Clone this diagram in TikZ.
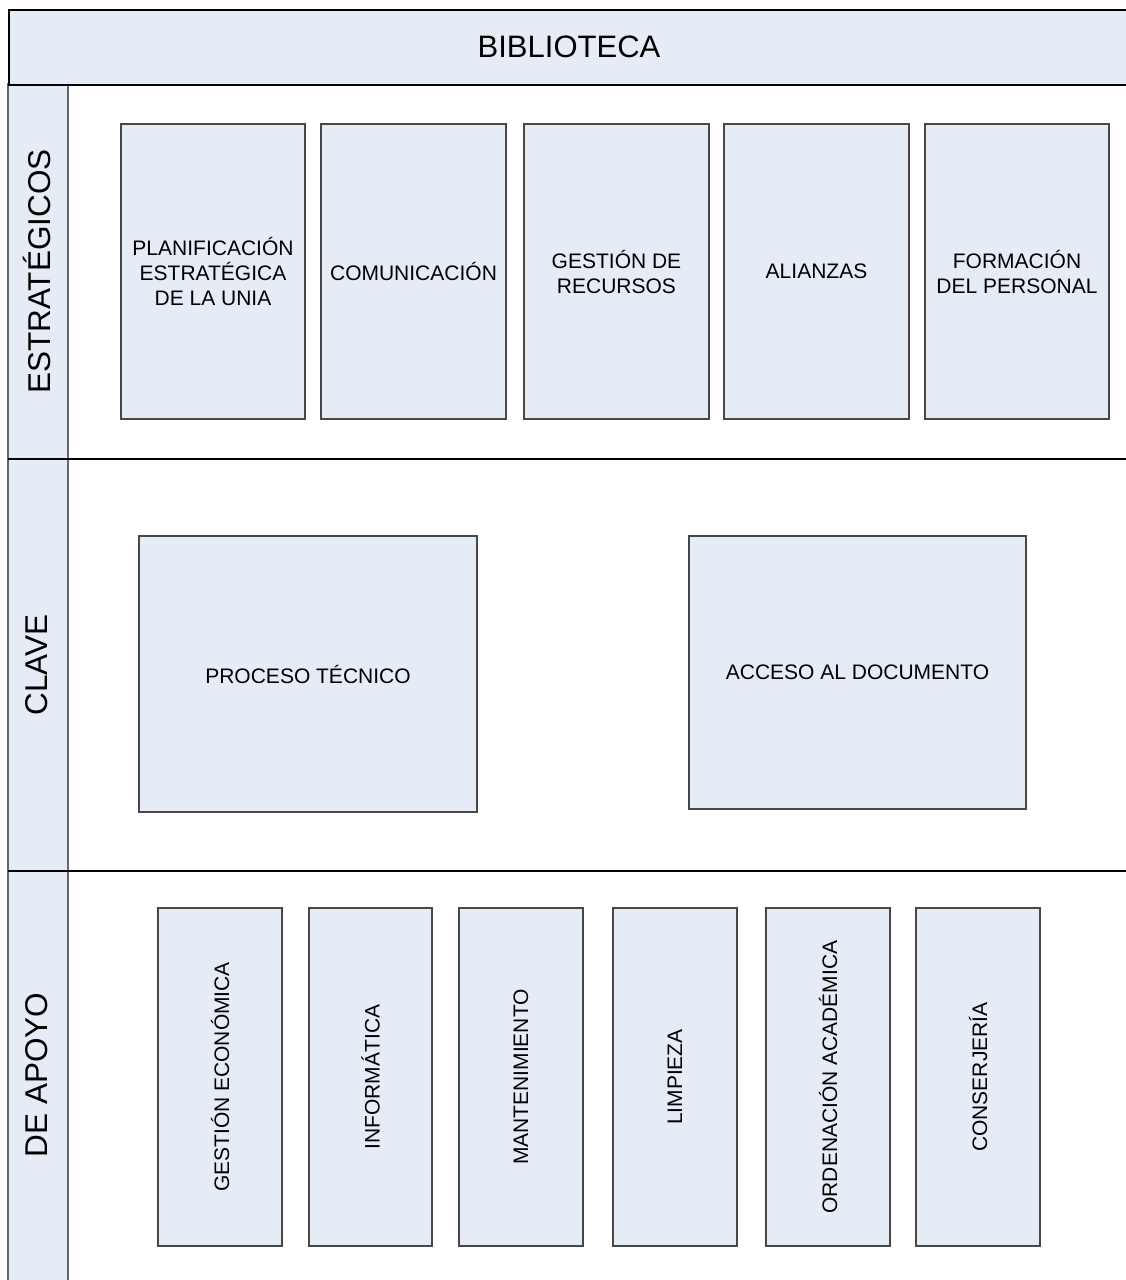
\documentclass[tikz,border=0pt]{standalone}
\usepackage{fontspec}
\setmainfont{Liberation Sans}
\definecolor{fillb}{HTML}{E5ECF6}
\begin{document}
\begin{tikzpicture}[x=1pt,y=-1pt,
  box/.style={draw=black!72, line width=1.2pt, fill=fillb, inner sep=0pt, align=center,
    font=\fontsize{21}{25}\selectfont},
  lanelabel/.style={rotate=90, inner sep=0pt, font=\fontsize{31.5}{36}\selectfont},
  sep/.style={draw=black, line width=1.3pt}]
\useasboundingbox (0,0) rectangle (1126,1280);
\fill[white] (0,0) rectangle (1126,1280);
% lane label column
\path[draw=black!60, line width=1.3pt, fill=fillb] (8,84) rectangle (68,1300);
% header
\node[draw=black, line width=1.6pt, fill=fillb, minimum width=1130pt, minimum height=75pt, anchor=north west,
  inner sep=0pt] (head) at (8,9) {};
\node[font=\fontsize{31}{36}\selectfont, inner sep=0pt] (headtxt) at (569,47) {BIBLIOTECA};
% lane separators
\coordinate (l1a) at (8,459); \coordinate (l1b) at (1130,459);
\coordinate (l2a) at (8,871); \coordinate (l2b) at (1130,871);
\draw[sep] (l1a) -- (l1b);
\draw[sep] (l2a) -- (l2b);
% lane labels
\node[lanelabel] (lE) at (37,271.5) {ESTRATÉGICOS};
\node[lanelabel] (lC) at (37,665) {CLAVE};
\node[lanelabel] (lA) at (37,1075) {DE APOYO};
% strategic
\node[box, minimum width=184pt, minimum height=295pt] (s1) at (213,271.5) {PLANIFICACIÓN\\ESTRATÉGICA\\DE LA UNIA};
\node[box, minimum width=185pt, minimum height=295pt] (s2) at (413.5,271.5) {COMUNICACIÓN};
\node[box, minimum width=185pt, minimum height=295pt] (s3) at (616.5,271.5) {GESTIÓN DE\\RECURSOS};
\node[box, minimum width=185pt, minimum height=295pt] (s4) at (816.5,271.5) {ALIANZAS};
\node[box, minimum width=184pt, minimum height=295pt] (s5) at (1017,271.5) {FORMACIÓN\\DEL PERSONAL};
% clave
\node[box, minimum width=338pt, minimum height=276pt] (c1) at (308,674) {PROCESO TÉCNICO};
\node[box, minimum width=337pt, minimum height=273pt] (c2) at (857.5,672.5) {ACCESO AL DOCUMENTO};
% apoyo
\node[box, minimum width=124pt, minimum height=338pt] (a1) at (220,1077) {\rotatebox{90}{GESTIÓN ECONÓMICA}};
\node[box, minimum width=123pt, minimum height=338pt] (a2) at (370.5,1077) {\rotatebox{90}{INFORMÁTICA}};
\node[box, minimum width=124pt, minimum height=338pt] (a3) at (521,1077) {\rotatebox{90}{MANTENIMIENTO}};
\node[box, minimum width=124pt, minimum height=338pt] (a4) at (675,1077) {\rotatebox{90}{LIMPIEZA}};
\node[box, minimum width=124pt, minimum height=338pt] (a5) at (828,1077) {\rotatebox{90}{ORDENACIÓN ACADÉMICA}};
\node[box, minimum width=124pt, minimum height=338pt] (a6) at (978,1077) {\rotatebox{90}{CONSERJERÍA}};
\end{tikzpicture}
\end{document}
